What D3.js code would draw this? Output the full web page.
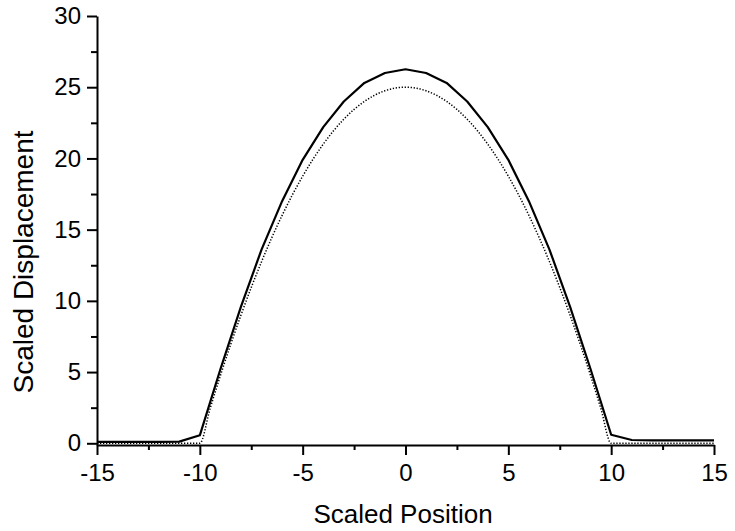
<!DOCTYPE html>
<html>
<head>
<meta charset="utf-8">
<script src="https://cdn.jsdelivr.net/npm/d3@7"></script>
<style>
  html, body { margin: 0; padding: 0; background: #fff; }
  svg { display: block; }
  text { font-family: "Liberation Sans", Arial, Helvetica, sans-serif; fill: #000; }
</style>
</head>
<body>
<svg id="chart" width="735" height="531"></svg>
<script>
// Computed profile (solid), sampled at integer positions
const positions = [-15, -14, -13, -12, -11, -10, -9, -8, -7, -6, -5, -4, -3, -2, -1, 0,
                   1, 2, 3, 4, 5, 6, 7, 8, 9, 10, 11, 12, 13, 14, 15];
const computed = [0.1, 0.1, 0.1, 0.1, 0.12, 0.56, 5.2, 9.6, 13.6, 17.0, 19.9, 22.2, 24.0, 25.3, 26.0, 26.26,
                  26.0, 25.3, 24.0, 22.2, 19.9, 17.0, 13.6, 9.6, 5.2, 0.6, 0.23, 0.2, 0.2, 0.2, 0.2];

// Reference profile (dotted)
const refPositions = [-15, -12, -10, -9.5, -9, -8.5, -8, -7.5, -7, -6.5, -6, -5.5, -5, -4.5, -4, -3.5, -3,
                      -2.5, -2, -1.5, -1, -0.5, 0, 0.5, 1, 1.5, 2, 2.5, 3, 3.5, 4, 4.5, 5, 5.5, 6,
                      6.5, 7, 7.5, 8, 8.5, 9, 9.5, 10, 12, 15];
const reference = [0, 0, 0, 2.44, 4.75, 6.94, 9.0, 10.94, 12.75, 14.44, 16.0, 17.44, 18.75, 19.94, 21.0, 21.94, 22.75,
                   23.44, 24.0, 24.44, 24.75, 24.94, 25.0, 24.94, 24.75, 24.44, 24.0, 23.44, 22.75, 21.94, 21.0, 19.94, 18.75, 17.44, 16.0,
                   14.44, 12.75, 10.94, 9.0, 6.94, 4.75, 2.44, 0, 0, 0];

const xMajorTicks = [-15, -10, -5, 0, 5, 10, 15];
const xMinorTicks = [-12.5, -7.5, -2.5, 2.5, 7.5, 12.5];
const yMajorTicks = [0, 5, 10, 15, 20, 25, 30];
const yMinorTicks = [2.5, 7.5, 12.5, 17.5, 22.5, 27.5];

const svg = d3.select("#chart");

const x = d3.scaleLinear().domain([-15, 15]).range([97, 714]);
const y = d3.scaleLinear().domain([-0.12, 30]).range([445, 16]);

const plainNumber = d => String(d);

// Axes
const xAxis = d3.axisBottom(x).tickValues(xMajorTicks).tickSize(10).tickSizeOuter(0)
  .tickFormat(plainNumber);
const xMinor = d3.axisBottom(x).tickValues(xMinorTicks).tickSize(5).tickFormat("");
const yAxis = d3.axisLeft(y).tickValues(yMajorTicks).tickSize(10).tickSizeOuter(0)
  .tickFormat(plainNumber);
const yMinor = d3.axisLeft(y).tickValues(yMinorTicks).tickSize(6).tickFormat("");

function styleAxis(g) {
  g.attr("font-family", null).attr("font-size", null);
  g.selectAll("path.domain").attr("stroke", "#000").attr("stroke-width", 2);
  g.selectAll(".tick line").attr("stroke", "#000").attr("stroke-width", 2);
  g.selectAll("text").style("font-size", "24px").attr("fill", "#000");
}

const gx = svg.append("g").attr("transform", `translate(0,${y.range()[0]})`).call(xAxis).call(styleAxis);
gx.selectAll(".tick text").attr("dy", null).attr("y", 36);
svg.append("g").attr("transform", `translate(0,${y.range()[0]})`).call(xMinor).call(styleAxis)
  .select("path.domain").remove();

const gy = svg.append("g").attr("transform", `translate(${x.range()[0]},0)`).call(yAxis).call(styleAxis);
gy.selectAll(".tick text").attr("x", -16);
svg.append("g").attr("transform", `translate(${x.range()[0]},0)`).call(yMinor).call(styleAxis)
  .select("path.domain").remove();

// Curves
const refLine = d3.line().x(d => x(d[0])).y(d => y(d[1])).curve(d3.curveMonotoneX);
svg.append("path")
  .datum(refPositions.map((p, i) => [p, reference[i]]))
  .attr("fill", "none").attr("stroke", "#000").attr("stroke-width", 1.5)
  .attr("stroke-dasharray", "1.3,1.7")
  .attr("d", refLine);

const compLine = d3.line().x(d => x(d[0])).y(d => y(d[1]));
svg.append("path")
  .datum(positions.map((p, i) => [p, computed[i]]))
  .attr("fill", "none").attr("stroke", "#000").attr("stroke-width", 2.2)
  .attr("stroke-linejoin", "round")
  .attr("d", compLine);

// Titles
svg.append("text")
  .attr("x", 403).attr("y", 523)
  .attr("text-anchor", "middle")
  .style("font-size", "26px")
  .text("Scaled Position");

svg.append("text")
  .attr("transform", "translate(33,262) rotate(-90)")
  .attr("text-anchor", "middle")
  .style("font-size", "28px")
  .text("Scaled Displacement");
</script>
</body>
</html>
